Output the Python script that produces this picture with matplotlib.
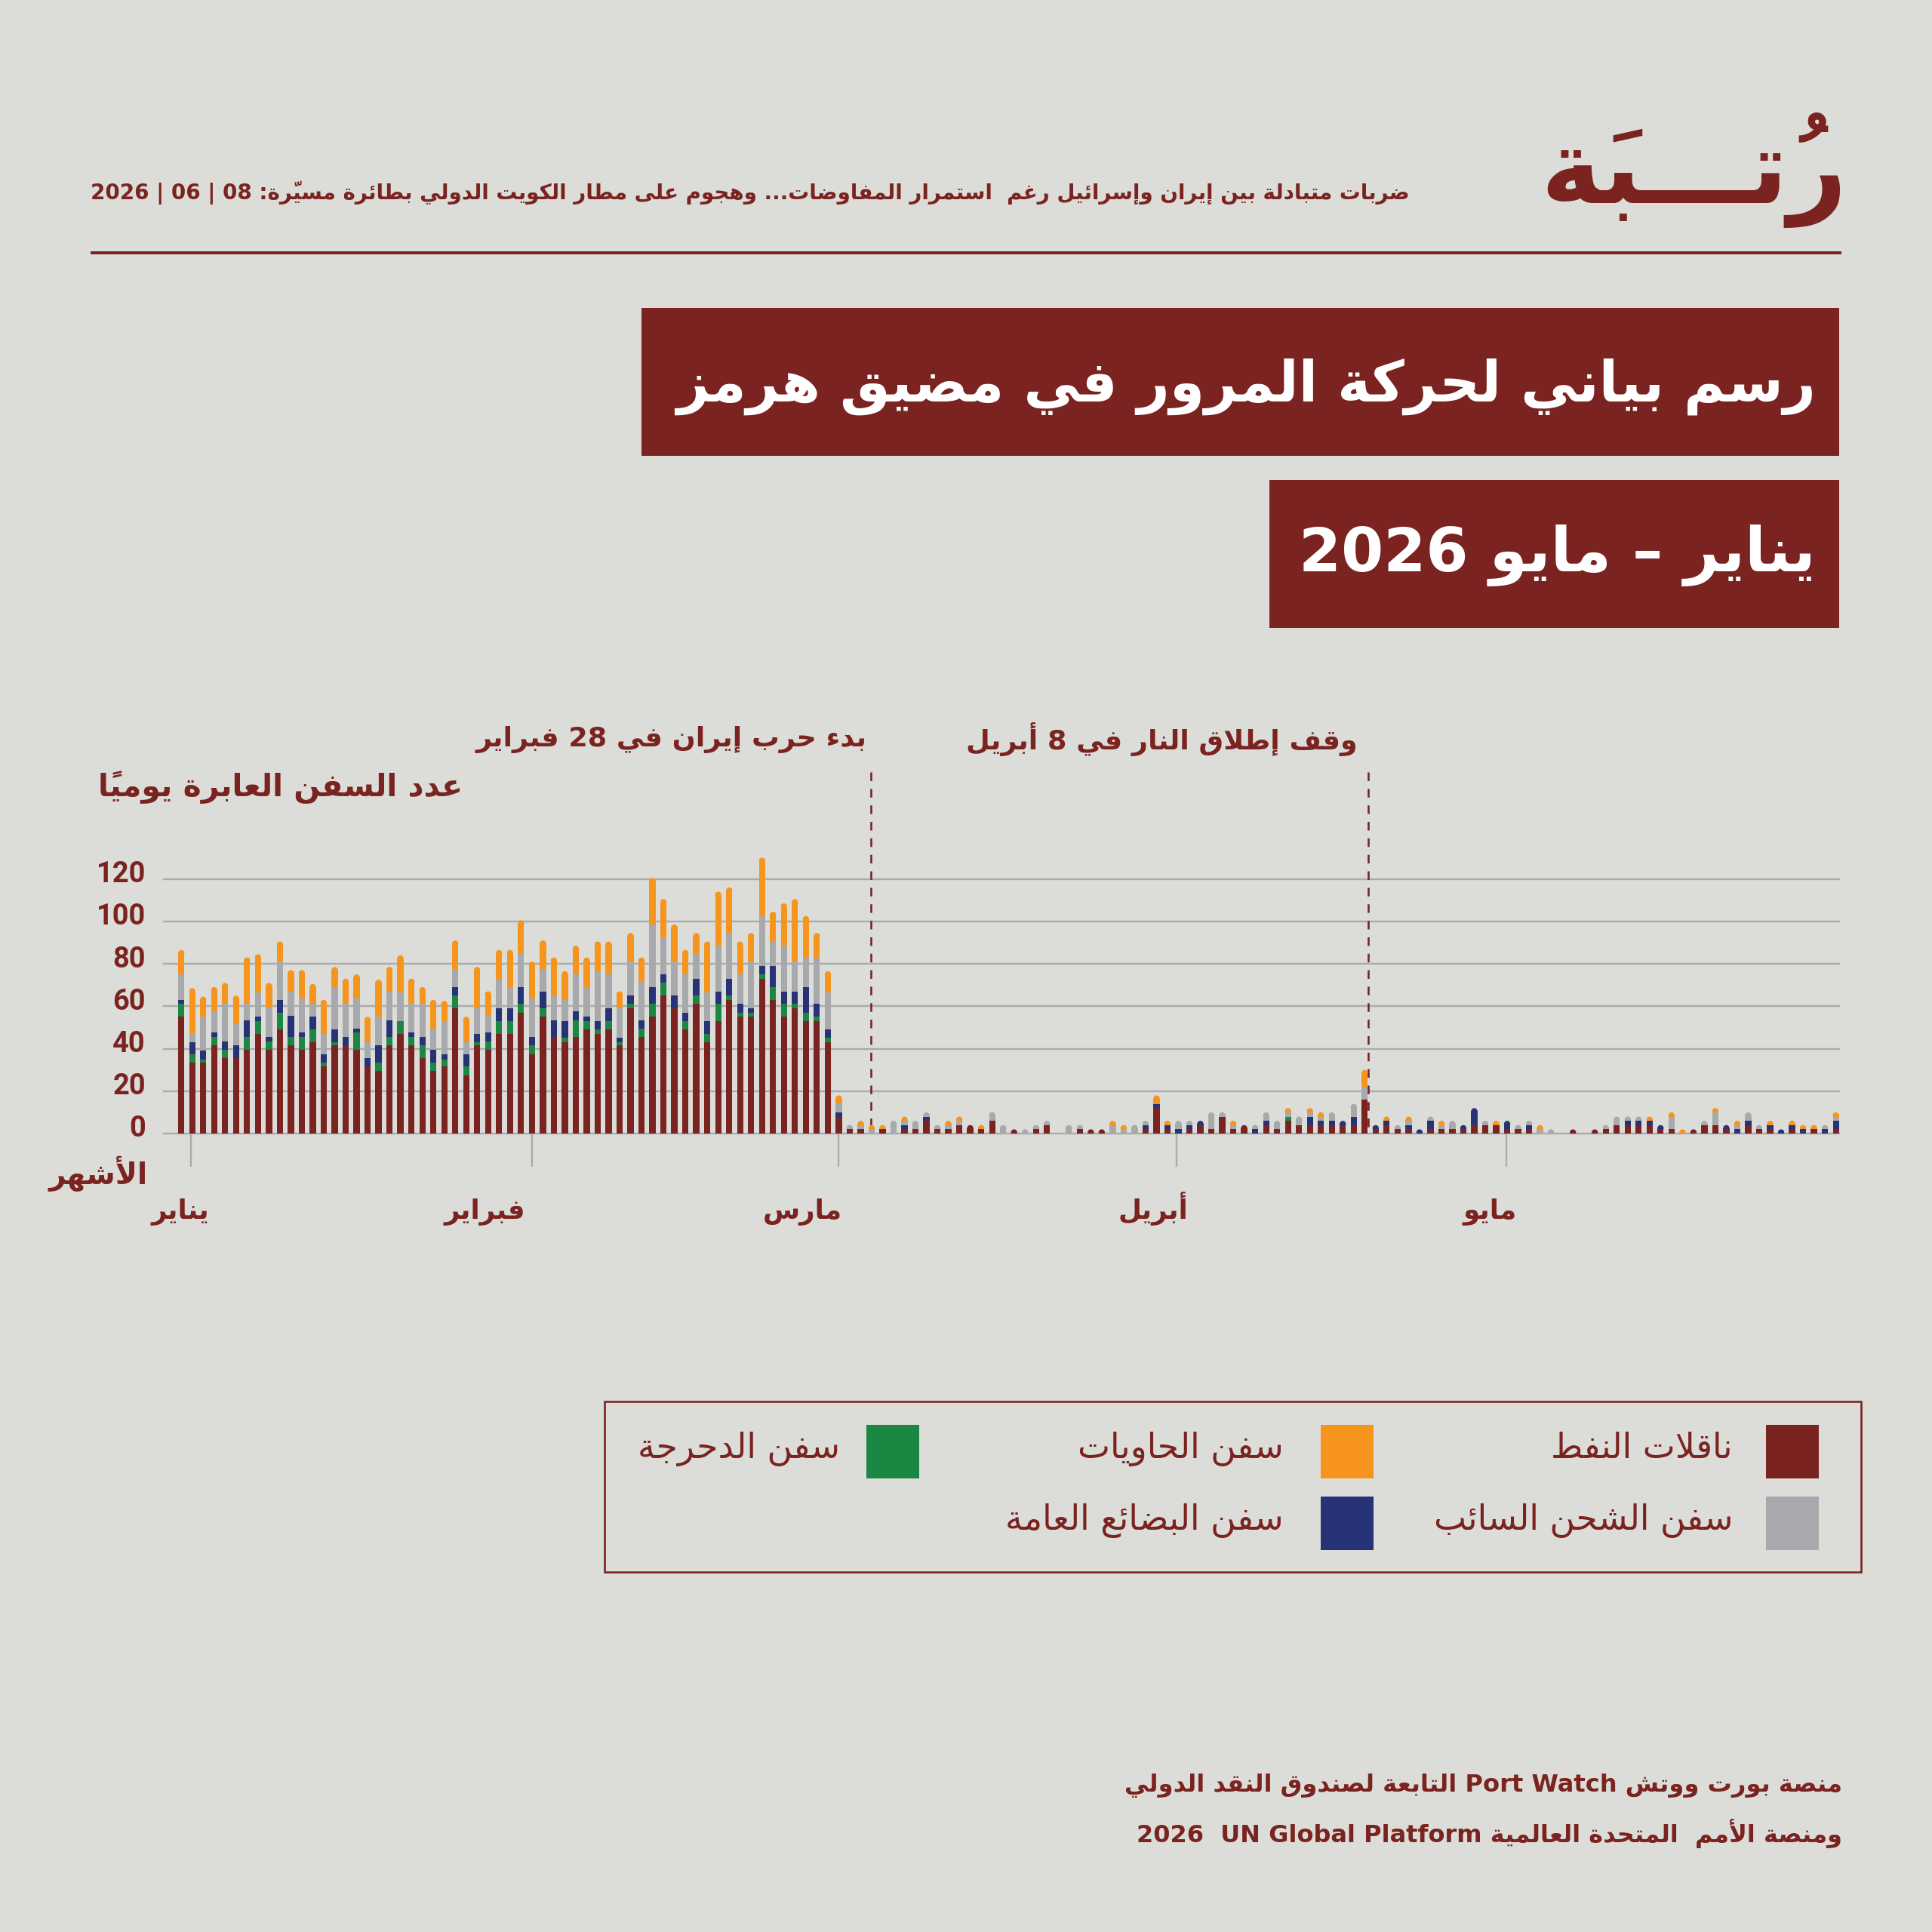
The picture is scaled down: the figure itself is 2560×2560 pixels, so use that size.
import matplotlib
matplotlib.use("Agg")
import matplotlib.pyplot as plt
from matplotlib.patches import Rectangle, Ellipse
from matplotlib.lines import Line2D
from matplotlib.transforms import ScaledTranslation, blended_transform_factory
import numpy as np

# ---------------------------------------------------------------- data
# daily transits through the strait, one bar per day (first bar = 31 Dec)
tankers = [55, 33.5, 33.5, 41.5, 35.5, 35.5, 39.5, 47, 39.5, 49,
           41.5, 39.5, 43, 31.5, 41.5, 41.5, 39.5, 31.5, 29.5, 41.5,
           47, 41.5, 35.5, 29.5, 31.5, 59, 27.5, 41.5, 39.5, 47,
           47, 57, 37.5, 55, 45.5, 43, 45.5, 49, 47, 49,
           41.5, 59, 45.5, 55, 65, 59, 49, 61, 43, 53,
           63, 55, 55, 73, 63, 55, 59, 53, 53, 43,
           8, 2, 2, 0, 2, 0, 2, 2, 6, 2,
           2, 4, 4, 2, 6, 0, 2, 0, 2, 4,
           0, 0, 2, 2, 2, 0, 0, 0, 2, 12,
           2, 0, 2, 4, 2, 8, 2, 4, 0, 4,
           2, 6, 4, 4, 4, 4, 4, 4, 16, 2,
           4, 2, 2, 0, 2, 2, 2, 2, 4, 4,
           4, 2, 2, 2, 0, 0, 0, 2, 0, 2,
           2, 4, 4, 4, 4, 2, 2, 0, 2, 4,
           4, 2, 0, 4, 2, 2, 0, 2, 0, 2,
           0, 2]
roro = [6, 4, 1.5, 4, 4, 0, 6, 6, 4, 8,
        4, 6, 6, 2, 1.5, 0, 8, 0, 4, 4,
        6, 4, 6, 4, 3.5, 6, 4, 1.5, 4, 6,
        6, 4, 4, 4, 0, 2, 8, 4, 2, 4,
        1.5, 2, 4, 6, 6, 0, 4, 4, 4, 8,
        2, 2, 2, 2, 6, 6, 2, 4, 2, 2,
        0, 0, 0, 0, 0, 0, 0, 0, 0, 0,
        0, 0, 0, 0, 0, 0, 0, 0, 0, 0,
        0, 0, 0, 0, 0, 0, 0, 0, 0, 0,
        0, 0, 0, 0, 0, 0, 0, 0, 0, 0,
        0, 2, 0, 0, 0, 0, 0, 0, 0, 0,
        0, 0, 0, 0, 0, 0, 0, 0, 0, 0,
        0, 0, 0, 0, 0, 0, 0, 0, 0, 0,
        0, 0, 0, 0, 0, 0, 0, 0, 0, 0,
        0, 0, 0, 0, 0, 0, 0, 0, 0, 0,
        0, 0]
general_cargo = [2, 5.5, 4, 2, 4, 6, 8, 2, 2, 6,
                 10, 2, 6, 4, 6, 4, 2, 4, 8, 8,
                 0, 2, 4, 6, 2.5, 4, 6, 4, 4, 6,
                 6, 8, 4, 8, 8, 8, 4, 2, 4, 6,
                 2, 4, 4, 8, 4, 6, 4, 8, 6, 6,
                 8, 4, 2, 4, 10, 6, 6, 12, 6, 4,
                 2, 0, 0, 0, 0, 0, 2, 0, 2, 0,
                 0, 0, 0, 0, 0, 0, 0, 0, 0, 0,
                 0, 0, 0, 0, 0, 0, 0, 0, 2, 2,
                 2, 2, 2, 2, 0, 0, 0, 0, 2, 2,
                 0, 0, 0, 4, 2, 2, 2, 4, 0, 2,
                 2, 0, 2, 2, 4, 0, 0, 2, 8, 0,
                 0, 4, 0, 2, 0, 0, 0, 0, 0, 0,
                 0, 0, 2, 2, 2, 2, 0, 0, 0, 0,
                 0, 2, 2, 2, 0, 2, 2, 2, 2, 0,
                 2, 4]
dry_bulk = [12, 4, 16, 10, 18, 10, 8, 11.5, 14, 18,
            11.5, 16, 6, 9.5, 19.5, 16, 14, 7.5, 13.5, 13.5,
            13.5, 14, 16, 10, 15.5, 8, 5.5, 12, 8, 14,
            10, 15.5, 18, 10, 11.5, 10, 17.5, 14, 23.5, 16,
            14, 16, 18, 29.5, 17.5, 16, 18, 11.5, 13.5, 21.5,
            21.5, 14, 22, 23.5, 11.5, 21.5, 14, 14, 21.5, 17.5,
            4, 2, 2, 2, 0, 6, 2, 4, 2, 2,
            2, 2, 0, 0, 4, 4, 0, 2, 2, 2,
            0, 4, 2, 0, 0, 4, 2, 4, 2, 0,
            0, 4, 2, 0, 8, 2, 2, 0, 2, 4,
            4, 2, 4, 2, 2, 4, 0, 6, 6, 0,
            0, 2, 2, 0, 2, 2, 4, 0, 0, 2,
            0, 0, 2, 2, 2, 2, 0, 0, 0, 0,
            2, 4, 2, 2, 0, 0, 6, 0, 0, 2,
            6, 0, 2, 4, 2, 0, 0, 0, 0, 0,
            2, 2]
containers = [11.5, 21.5, 9.5, 11.5, 9.5, 13.5, 21.5, 18, 11.5, 9.5,
              10, 13.5, 9.5, 16, 10, 11.5, 11.5, 12, 17.5, 11.5,
              17.5, 11.5, 7.5, 13.5, 9.5, 14, 12, 19.5, 11.5, 13.5,
              17.5, 16, 17.5, 14, 18, 13.5, 13.5, 14, 14, 15.5,
              8, 13.5, 11.5, 22, 18, 17.5, 11.5, 10, 24, 25.5,
              21.5, 15.5, 13.5, 27.5, 14, 20, 29.5, 19.5, 12, 10,
              4, 0, 2, 2, 2, 0, 2, 0, 0, 0,
              2, 2, 0, 2, 0, 0, 0, 0, 0, 0,
              0, 0, 0, 0, 0, 2, 2, 0, 0, 4,
              2, 0, 0, 0, 0, 0, 2, 0, 0, 0,
              0, 2, 0, 2, 2, 0, 0, 0, 8, 0,
              2, 0, 2, 0, 0, 2, 0, 0, 0, 0,
              2, 0, 0, 0, 2, 0, 0, 0, 0, 0,
              0, 0, 0, 0, 2, 0, 2, 2, 0, 0,
              2, 0, 2, 0, 0, 2, 0, 2, 2, 2,
              0, 2]

y_ticks = [0, 20, 40, 60, 80, 100, 120]
month_ticks = [0.85, 32.0, 60.0, 90.85, 120.9]
month_label_x = [-0.1, 27.7, 56.7, 88.7, 119.4]
month_names = ["يناير", "فبراير", "مارس", "أبريل", "مايو"]
event_x = [62.95, 108.35]
event_labels = ["بدء حرب إيران في 28 فبراير", "وقف إطلاق النار في 8 أبريل"]

# ---------------------------------------------------------------- style
W = H = 2560
DPI = 200
BG = "#DCDDD8"
RED = "#7A2320"
ORANGE = "#F7941D"
GRAY = "#A7A9AC"
NAVY = "#283377"
GREEN = "#1B8743"
GRID = "#ABABAB"
AR_FONT = ["DejaVu Sans"]

plt.rcParams["font.family"] = AR_FONT

# ---------------------------------------------------------------- arabic helpers
# matplotlib has no complex text layout, so join letters and order them here
FORMS = {0x0621: (0xFE80, 1), 0x0622: (0xFE81, 2), 0x0623: (0xFE83, 2), 0x0624: (0xFE85, 2),
         0x0625: (0xFE87, 2), 0x0626: (0xFE89, 4), 0x0627: (0xFE8D, 2), 0x0628: (0xFE8F, 4),
         0x0629: (0xFE93, 2), 0x062A: (0xFE95, 4), 0x062B: (0xFE99, 4), 0x062C: (0xFE9D, 4),
         0x062D: (0xFEA1, 4), 0x062E: (0xFEA5, 4), 0x062F: (0xFEA9, 2), 0x0630: (0xFEAB, 2),
         0x0631: (0xFEAD, 2), 0x0632: (0xFEAF, 2), 0x0633: (0xFEB1, 4), 0x0634: (0xFEB5, 4),
         0x0635: (0xFEB9, 4), 0x0636: (0xFEBD, 4), 0x0637: (0xFEC1, 4), 0x0638: (0xFEC5, 4),
         0x0639: (0xFEC9, 4), 0x063A: (0xFECD, 4), 0x0641: (0xFED1, 4), 0x0642: (0xFED5, 4),
         0x0643: (0xFED9, 4), 0x0644: (0xFEDD, 4), 0x0645: (0xFEE1, 4), 0x0646: (0xFEE5, 4),
         0x0647: (0xFEE9, 4), 0x0648: (0xFEED, 2), 0x0649: (0xFEEF, 2), 0x064A: (0xFEF1, 4)}
LAM_ALEF = {"\u0622": 0xFEF5, "\u0623": 0xFEF7, "\u0625": 0xFEF9, "\u0627": 0xFEFB}
TATWEEL = "\u0640"


def is_mark(c):
    return "\u064B" <= c <= "\u0652" or c == "\u0670"


def kind(c):
    if c == TATWEEL:
        return "T"
    if ord(c) in FORMS:
        return FORMS[ord(c)][1]
    return None


def shape(s):
    chars = list(s)
    n = len(chars)
    out = []
    prev_joins = False
    i = 0
    while i < n:
        c = chars[i]
        if is_mark(c):
            out.append(c)
            i += 1
            continue
        k = kind(c)
        if k is None:
            out.append(c)
            prev_joins = False
            i += 1
            continue
        if k == "T":
            out.append(c)
            prev_joins = True
            i += 1
            continue
        j = i + 1
        while j < n and is_mark(chars[j]):
            j += 1
        nxt = chars[j] if j < n else None
        if c == "\u0644" and nxt in LAM_ALEF:
            out.append(chr(LAM_ALEF[nxt] + (1 if prev_joins else 0)))
            out.extend(chars[i + 1:j])
            prev_joins = False
            i = j + 1
            continue
        nk = kind(nxt) if nxt is not None else None
        join_prev = prev_joins and k in (2, 4)
        join_next = k == 4 and nk in (2, 4, "T")
        base = FORMS[ord(c)][0]
        if k == 1:
            form = base
        elif k == 2:
            form = base + (1 if join_prev else 0)
        elif join_prev and join_next:
            form = base + 3
        elif join_prev:
            form = base + 1
        elif join_next:
            form = base + 2
        else:
            form = base
        out.append(chr(form))
        prev_joins = k == 4
        i += 1
    return "".join(out)


def ar(s):
    """logical arabic string -> shaped string in visual (left to right) order"""
    s = shape(s)
    units = []
    for c in s:
        if is_mark(c) and units:
            # zero-width mark goes in front of its letter so it lands on top of it
            units[-1][0] = c + units[-1][0]
            continue
        if "\u0600" <= c <= "\u06FF" or "\uFB50" <= c <= "\uFEFF":
            t = "R"
        elif c.isascii() and c.isalpha():
            t = "L"
        elif c.isdigit():
            t = "EN"
        else:
            t = "N"
        units.append([c, t])
    types = [u[1] for u in units]
    n = len(units)
    strong = lambda t: "R" if t in ("R", "EN") else t
    levels = []
    for i, t in enumerate(types):
        if t == "N":
            p = next((strong(types[j]) for j in range(i - 1, -1, -1) if types[j] != "N"), "R")
            q = next((strong(types[j]) for j in range(i + 1, n) if types[j] != "N"), "R")
            t = "L" if p == q == "L" else "R"
        levels.append(1 if t == "R" else 2)
    seq = list(zip([u[0] for u in units], levels))
    for lev in (2, 1):
        res = []
        i = 0
        while i < len(seq):
            if seq[i][1] >= lev:
                j = i
                while j < len(seq) and seq[j][1] >= lev:
                    j += 1
                res.extend(reversed(seq[i:j]))
                i = j
            else:
                res.append(seq[i])
                i += 1
        seq = res
    return "".join(u for u, _ in seq)


# ---------------------------------------------------------------- figure
fig = plt.figure(figsize=(W / DPI, H / DPI), dpi=DPI, facecolor=BG)
renderer = fig.canvas.get_renderer()


def fx(px):
    return px / W


def fy(py):
    return 1 - py / H


def pt(px):
    return px * 72 / DPI


def fit(t, width_px):
    w = t.get_window_extent(renderer).width
    t.set_fontsize(t.get_fontsize() * width_px / w)
    return t.get_fontsize()


def ftext(txt, right_px, y_px, width_px, color=RED, weight="bold", ha="right"):
    t = fig.text(fx(right_px), fy(y_px), ar(txt), ha=ha, va="center",
                 color=color, fontweight=weight, fontsize=20, family=AR_FONT)
    fit(t, width_px)
    return t


# header
ftext("ضربات متبادلة بين إيران وإسرائيل رغم  استمرار المفاوضات... وهجوم على مطار الكويت الدولي بطائرة مسيّرة: 08 | 06 | 2026",
      1868, 255, 1745)
ftext("رُتـــبَة", 2448, 226, 406)
fig.add_artist(Line2D([fx(122), fx(2438)], [fy(335), fy(335)], color=RED, lw=pt(4)))

# title boxes
fig.add_artist(Rectangle((fx(850), fy(604)), (2437 - 850) / W, (604 - 408) / H,
                         transform=fig.transFigure, fc=RED, ec="none"))
fig.add_artist(Rectangle((fx(1682), fy(832)), (2437 - 1682) / W, (832 - 636) / H,
                         transform=fig.transFigure, fc=RED, ec="none"))
ftext("رسم بياني لحركة المرور في مضيق هرمز", 2406, 512, 1510, color="white")
ftext("يناير – مايو 2026", 2406, 736, 684, color="white")

# ---------------------------------------------------------------- axes
AX_L, AX_R, AX_B = 217, 2437, 1502
YMAX = 135
PX_Y = 2.812
AX_T = AX_B - YMAX * PX_Y
XLIM = (-1.6, 151.3)
BAR_W = 0.57

ax = fig.add_axes([fx(AX_L), fy(AX_B), (AX_R - AX_L) / W, (AX_B - AX_T) / H])
ax.patch.set_visible(False)
for s in ax.spines.values():
    s.set_visible(False)
ax.set_xlim(*XLIM)
ax.set_ylim(0, YMAX)

for y in y_ticks:
    ax.axhline(y, color=GRID, lw=pt(2.4), zorder=1, clip_on=False)

series = np.array([tankers, roro, general_cargo, dry_bulk, containers], dtype=float)
colors = [RED, GREEN, NAVY, GRAY, ORANGE]
n = series.shape[1]
days = np.arange(n)
totals = series.sum(axis=0)
top_k = np.array([max([k for k in range(5) if series[k, i] > 0], default=-1) for i in range(n)])

px_x = (AX_R - AX_L) / (XLIM[1] - XLIM[0])
r_y = BAR_W * px_x / 2 / PX_Y   # radius of the rounded bar top, in y units

bottom = np.zeros(n)
for k in range(5):
    h = series[k].copy()
    h[top_k == k] -= r_y
    ax.bar(days, h, BAR_W, bottom=bottom, color=colors[k], lw=0, zorder=3)
    bottom += series[k]
for i in range(n):
    if totals[i] > 0:
        ax.add_patch(Ellipse((days[i], totals[i] - r_y), BAR_W, 2 * r_y,
                             fc=colors[top_k[i]], ec="none", zorder=2))

# event lines
line_top = (AX_B - 1023) / PX_Y
for x in event_x:
    ax.plot([x, x], [line_top, 0], color=RED, lw=pt(2.6), ls=(0, (4.4, 4.0)),
            zorder=1.5, clip_on=False)
blend = blended_transform_factory(ax.transData, fig.transFigure)
ev_texts = []
for x, lab, off in zip(event_x, event_labels, [0.4, 1.0]):
    ev_texts.append(ax.text(x - off, fy(980), ar(lab), transform=blend, ha="right", va="center",
                            color=RED, fontweight="bold", fontsize=20, clip_on=False))
fs = np.mean([fit(ev_texts[0], 511), fit(ev_texts[1], 523)])
for t in ev_texts:
    t.set_fontsize(fs)

# y axis
ax.set_yticks(y_ticks)
ax.set_yticklabels([str(v) for v in y_ticks], family="Roboto", fontweight="bold",
                   color=RED, fontsize=13.7)
ax.tick_params(axis="y", length=0, pad=pt(24))
for lab in ax.get_yticklabels():
    lab.set_transform(lab.get_transform() + ScaledTranslation(0, 10 / DPI, fig.dpi_scale_trans))

# x axis: month ticks and labels
ax.set_xticks(month_ticks)
ax.set_xticklabels([""] * len(month_ticks))
ax.tick_params(axis="x", which="major", length=pt(44), width=pt(2.4), color=GRID)
ax.set_xticks(month_label_x, minor=True)
ax.set_xticklabels([ar(m) for m in month_names], minor=True, color=RED,
                   fontweight="bold", fontsize=20, va="baseline")
ax.tick_params(axis="x", which="minor", length=0, pad=pt(113))
mlabs = ax.get_xticklabels(minor=True)
mfs = fit(mlabs[1], 108)
for lab in mlabs:
    lab.set_fontsize(mfs)

ftext("عدد السفن العابرة يوميًا", 613, 1043, 483)
ftext("الأشهر", 196, 1555, 131)

# ---------------------------------------------------------------- legend
fig.add_artist(Rectangle((fx(801), fy(2083)), (2466 - 801) / W, (2083 - 1857) / H,
                         transform=fig.transFigure, fill=False, ec=RED, lw=pt(2.6)))
legend_items = [
    ("ناقلات النفط", RED, 2340, 1924, 2296, 243),
    ("سفن الشحن السائب", GRAY, 2340, 2019, 2296, 380),
    ("سفن الحاويات", ORANGE, 1750, 1924, 1701, 275),
    ("سفن البضائع العامة", NAVY, 1750, 2019, 1701, 381),
    ("سفن الدحرجة", GREEN, 1148, 1924, 1113, 264),
]
leg_texts = []
sizes = []
for lab, col, sx, sy, tx, tw in legend_items:
    fig.add_artist(Rectangle((fx(sx), fy(sy + 35)), 70 / W, 71 / H,
                             transform=fig.transFigure, fc=col, ec="none"))
    t = fig.text(fx(tx), fy(sy - 4), ar(lab), ha="right", va="center", color=RED,
                 fontsize=20, family=AR_FONT)
    sizes.append(fit(t, tw))
    leg_texts.append(t)
for t in leg_texts:
    t.set_fontsize(np.mean(sizes))

# ---------------------------------------------------------------- footer
ftext("منصة بورت ووتش Port Watch التابعة لصندوق النقد الدولي", 2441, 2366, 950)
ftext("ومنصة الأمم  المتحدة العالمية UN Global Platform  2026", 2441, 2430, 933)

fig.savefig("out.png", dpi=DPI, facecolor=BG)
